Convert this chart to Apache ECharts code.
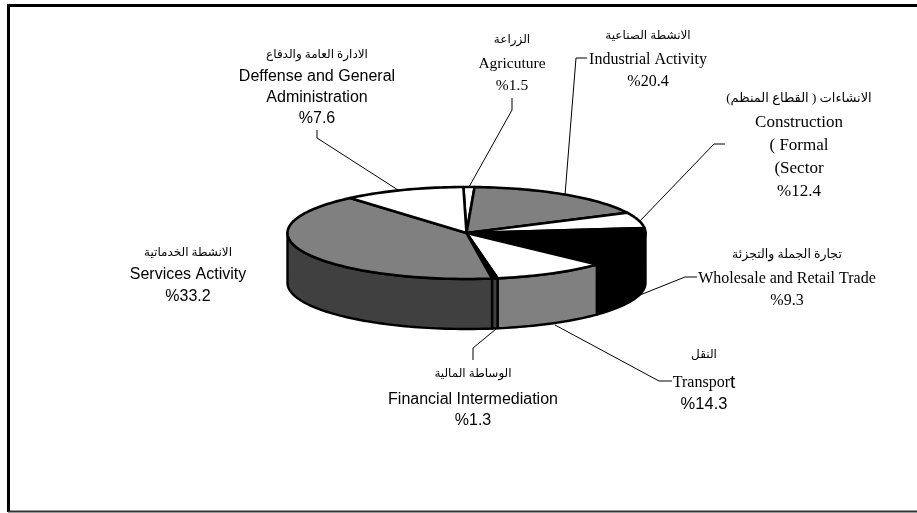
<!DOCTYPE html>
<html><head><meta charset="utf-8">
<style>html,body{margin:0;padding:0;background:#fff}#c{width:917px;height:513px}</style>
<script src="https://cdn.jsdelivr.net/npm/echarts@6/dist/echarts.min.js"></script>
</head><body><div id="c"></div>
<script>
// Slice order, clockwise from 12 o'clock
const categories = ['Agriculture','Industrial','Construction','Wholesale','Transport','Financial','Services','Defense'];
// Visible slice shares (%)
const sliceShares = [1.0, 17.0, 5.6, 13.7, 10.2, 0.5, 41.0, 11.0];
// Values printed on the labels
const labelValues = ['%1.5','%20.4','%12.4','%9.3','%14.3','%1.3','%33.2','%7.6'];
const arabicNames = ['الزراعة','الانشطة الصناعية','الانشاءات ( القطاع المنظم)','تجارة الجملة والتجزئة','النقل','الوساطة المالية','الانشطة الخدماتية','الادارة العامة والدفاع'];
const englishNames = [['Agricuture'],['Industrial Activity'],['Construction','( Formal','(Sector'],['Wholesale and Retail Trade'],['Transport'],['Financial Intermediation'],['Services Activity'],['Deffense and General','Administration']];

const topColors  = ['#ffffff','#808080','#ffffff','#000000','#ffffff','#000000','#808080','#ffffff'];
const sideColors = ['#ffffff','#808080','#ffffff','#000000','#808080','#404040','#404040','#ffffff'];

const SANS = '"Liberation Sans", Arial, "DejaVu Sans", sans-serif';
const SERIF = '"Liberation Serif", "Times New Roman", "DejaVu Serif", serif';
const PIE = {cx:466.5, cy:233, rx:179, ry:46, depth:50, start:-1};
const TEXT_DY = 1.5;
// label layout: centre x, y of each text row, font, leader polyline
const labelLayout = [
 {x:512, rows:[38,62,84], font:SERIF, size:15.5, ar:12, leader:[[512,98],[512,110],[469,187]]},
 {x:648, rows:[34,58,80], font:SERIF, size:16, ar:12, leader:[[587,58],[576,58],[565,195]]},
 {x:799, rows:[97,121,144,167,190], font:SERIF, size:17, ar:13, leader:[[725,144],[714,144],[639,222]]},
 {x:787, rows:[253,277,299], font:SERIF, size:16, ar:12.5, leader:[[697,277],[685,277],[640,295]]},
 {x:704, rows:[353,381,403], font:SERIF, size:16.5, ar:12, leader:[[672,381],[659,381],[555,325]], valueFont:SANS},
 {x:473, rows:[372,398,419], font:SANS, size:16, ar:12, leader:[[473,360],[473,348],[496,329]]},
 {x:188, rows:[251,273,295], font:SANS, size:16, ar:12, leader:[]},
 {x:317, rows:[53,75,96,117], font:SANS, size:16, ar:12, leader:[[317,130],[317,138],[398,190]]}
];

const total = sliceShares.reduce((a,b)=>a+b,0);
function bounds(i){
  let s = 0; for (let k=0;k<i;k++) s += sliceShares[k];
  return [PIE.start + s/total*360, PIE.start + (s+sliceShares[i])/total*360];
}
function rim(deg, dy){
  const t = deg*Math.PI/180;
  return [PIE.cx + PIE.rx*Math.sin(t), PIE.cy - PIE.ry*Math.cos(t) + (dy||0)];
}
function arc(a,b,dy){
  const n = Math.max(2, Math.ceil(Math.abs(b-a)/1.5)), out=[];
  for (let i=0;i<=n;i++) out.push(rim(a+(b-a)*i/n, dy));
  return out;
}
function renderSide(params, api){
  const i = api.value(0), [a,b] = bounds(i);
  const lo = Math.max(a,90), hi = Math.min(b,270);
  if (hi <= lo) return {type:'group',children:[]};
  const pts = arc(lo,hi,0).concat(arc(hi,lo,PIE.depth));
  return {type:'polygon', shape:{points:pts},
    style:{fill:sideColors[i], stroke:'#000', lineWidth:2.4, lineJoin:'round'}};
}
function renderTop(params, api){
  const i = api.value(0), [a,b] = bounds(i);
  const pts = [[PIE.cx,PIE.cy]].concat(arc(a,b,0));
  return {type:'polygon', shape:{points:pts},
    style:{fill:topColors[i], stroke:'#000', lineWidth:2.6, lineJoin:'round'}};
}
function renderLabel(params, api){
  const i = api.value(0), L = labelLayout[i], kids = [];
  if (L.leader.length) kids.push({type:'polyline', shape:{points:L.leader},
    style:{fill:'none', stroke:'#000', lineWidth:1}});
  const put = (text,y,font,size,rich) => kids.push({type:'text', x:L.x, y:y+TEXT_DY,
    style:Object.assign({text:text, x:0, y:0, align:'center', verticalAlign:'middle', fill:'#000',
      fontFamily:font, fontSize:size}, rich?{rich:rich}:{})});
  put(arabicNames[i], L.rows[0], '"Liberation Serif","DejaVu Sans",sans-serif', L.ar);
  englishNames[i].forEach((t,k)=>{
    if (t==='Transport') put('{a|Transpor}{b|t}', L.rows[k+1], L.font, L.size,
      {a:{fontFamily:SERIF,fontSize:16,fill:'#000'}, b:{fontFamily:SANS,fontSize:19,fill:'#000'}});
    else put(t, L.rows[k+1], L.font, L.size);
  });
  put(labelValues[i], L.rows[L.rows.length-1], L.valueFont||L.font, L.size);
  return {type:'group', children:kids};
}
const idx = categories.map((c,i)=>[i]);
const chart = echarts.init(document.getElementById('c'), null, {renderer:'canvas'});
chart.setOption({
  animation:false, backgroundColor:'#fff',
  graphic:[
    {type:'polyline', shape:{points:[[917,5.5],[8.5,5.5],[8.5,512]]}, style:{fill:'none',stroke:'#000',lineWidth:3}, z:0},
    {type:'line', shape:{x1:8,y1:511.5,x2:917,y2:511.5}, style:{stroke:'#333',lineWidth:2}, z:0}
  ],
  xAxis:{show:false,type:'value'}, yAxis:{show:false,type:'value'},
  series:[
    {type:'custom', coordinateSystem:'none', renderItem:renderLabel, data:idx, z:2, silent:true},
    {type:'custom', coordinateSystem:'none', renderItem:renderSide, data:idx, z:3, silent:true},
    {type:'custom', coordinateSystem:'none', renderItem:renderTop, data:idx, z:4, silent:true}
  ]
});
</script></body></html>
